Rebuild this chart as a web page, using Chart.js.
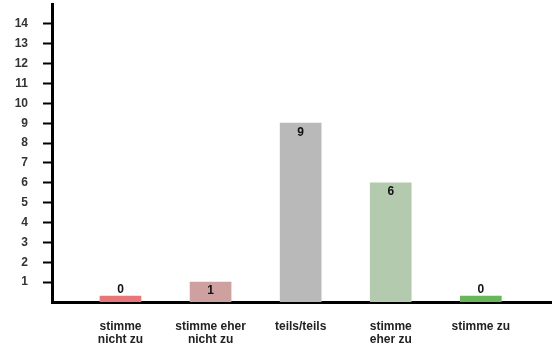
<!DOCTYPE html>
<html>
<head>
<meta charset="utf-8">
<script src="https://cdn.jsdelivr.net/npm/chart.js@4"></script>
<style>
  html, body { margin: 0; padding: 0; background: #fff; }
  #wrap { width: 552px; height: 345px; }
</style>
</head>
<body>
<div id="wrap"><canvas id="answers" width="552" height="345"></canvas></div>
<script>
const categories = [
    ["stimme", "nicht zu"],
    ["stimme eher", "nicht zu"],
    "teils/teils",
    ["stimme", "eher zu"],
    "stimme zu"
];

const counts = [0, 1, 9, 6, 0];

const barColors = ["#e8777a", "#cfa0a0", "#b9b9b9", "#b4caae", "#68b85b"];

const yTicks = [1, 2, 3, 4, 5, 6, 7, 8, 9, 10, 11, 12, 13, 14];

// writes the count on or above each bar
const valueLabels = {
    id: "valueLabels",
    afterDatasetsDraw(chart) {
        const ctx = chart.ctx;
        const bars = chart.getDatasetMeta(0).data;
        ctx.save();
        ctx.font = "bold 12px 'Liberation Sans', Arial, sans-serif";
        ctx.fillStyle = "#111";
        ctx.textAlign = "center";
        ctx.textBaseline = "middle";
        bars.forEach((bar, i) => {
            const v = counts[i];
            const y = v === 0 ? bar.y - 6 : bar.y + 9;
            ctx.fillText(String(v), bar.x, y);
        });
        ctx.restore();
    }
};

const chart = new Chart(document.getElementById("answers"), {
    type: "bar",
    data: {
        datasets: [{
            data: counts.map((v, i) => ({ x: i, y: v })),
            backgroundColor: barColors,
            barThickness: 41,
            minBarLength: 6
        }]
    },
    options: {
        responsive: false,
        animation: false,
        layout: { padding: { top: 4, right: 0, left: 0, bottom: 0 } },
        plugins: {
            legend: { display: false },
            tooltip: { enabled: false }
        },
        scales: {
            x: {
                type: "linear",
                offset: false,
                min: -0.76,
                max: 4.79,
                afterBuildTicks(scale) {
                    scale.ticks = categories.map((c, i) => ({ value: i }));
                },
                afterFit(scale) {
                    scale.height = 43;
                    scale.paddingLeft = 0;
                    scale.paddingRight = 0;
                },
                ticks: {
                    autoSkip: false,
                    maxRotation: 0,
                    padding: 18,
                    color: "#222",
                    font: { family: "'Liberation Sans', Arial, sans-serif", size: 12, weight: "bold", lineHeight: 1.1 },
                    callback: (v) => categories[v]
                },
                grid: { display: false, drawTicks: false },
                border: { display: true, color: "#000", width: 3 }
            },
            y: {
                min: 0,
                max: 15,
                afterBuildTicks(scale) {
                    scale.ticks = yTicks.map(v => ({ value: v }));
                },
                afterFit(scale) {
                    scale.width = 52;
                    scale.paddingTop = 0;
                    scale.paddingBottom = 0;
                },
                ticks: {
                    padding: 15,
                    color: "#333",
                    font: { family: "'Liberation Sans', Arial, sans-serif", size: 12, weight: "bold" }
                },
                grid: {
                    drawOnChartArea: false,
                    tickLength: 9,
                    tickWidth: 2,
                    tickColor: "#000"
                },
                border: { display: true, color: "#000", width: 3 }
            }
        }
    },
    plugins: [valueLabels]
});
</script>
</body>
</html>
